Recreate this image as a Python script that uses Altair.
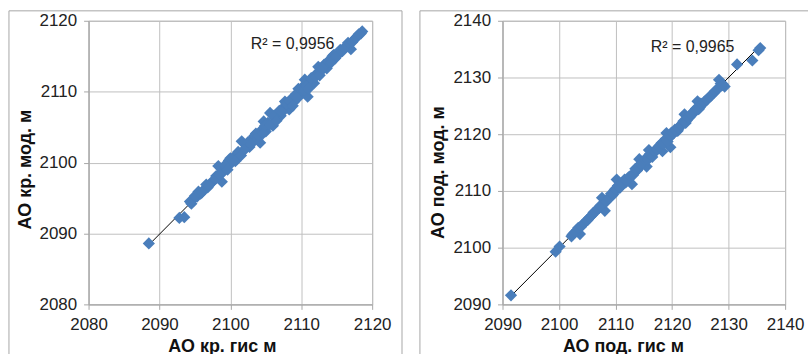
import altair as alt
import pandas as pd

# ---- data: left panel (АО кр.) ----
kr_gis = [2088.5, 2092.8, 2093.5, 2094.3, 2094.8, 2095.3, 2095.8, 2096.3, 2096.8, 2097.2,
          2097.6, 2098.0, 2098.3, 2098.8, 2099.0, 2099.4, 2099.8, 2100.2, 2100.5, 2100.9,
          2101.3, 2101.6, 2101.9, 2102.3, 2102.7, 2103.1, 2103.4, 2103.8, 2104.2, 2104.4,
          2104.7, 2105.0, 2105.3, 2105.6, 2106.0, 2106.3, 2106.7, 2107.1, 2107.4, 2107.7,
          2108.0, 2108.3, 2108.6, 2108.9, 2109.3, 2109.6, 2109.9, 2110.2, 2110.5, 2110.9,
          2111.2, 2111.5, 2111.8, 2112.2, 2112.4, 2112.8, 2113.2, 2113.6, 2114.0, 2114.4,
          2114.8, 2115.3, 2115.8, 2116.3, 2117.0, 2117.4, 2117.9, 2118.4, 2118.6,
          2094.5, 2095.0, 2095.5, 2096.0, 2096.6, 2097.0, 2097.9, 2098.5, 2099.2, 2099.6,
          2100.0, 2100.7, 2101.1, 2101.5, 2102.1, 2102.5, 2102.9, 2103.6, 2104.0, 2104.6,
          2104.9, 2105.5, 2106.1, 2106.5, 2106.9, 2107.3, 2107.9, 2108.4, 2108.8, 2109.1,
          2109.5, 2110.0, 2110.4, 2110.7, 2111.0, 2111.4, 2112.0, 2112.6, 2113.0, 2113.4,
          2113.8, 2114.2, 2114.6, 2115.0, 2115.5, 2116.0, 2116.6, 2117.2, 2117.7, 2118.1]
kr_mod = [2088.6, 2092.2, 2092.3, 2094.5, 2094.9, 2095.2, 2095.6, 2096.2, 2096.5, 2097.1,
          2097.4, 2098.1, 2099.5, 2097.3, 2098.7, 2099.2, 2100.3, 2100.0, 2100.8, 2100.5,
          2101.2, 2103.0, 2101.7, 2102.5, 2102.2, 2103.4, 2103.8, 2103.3, 2102.8, 2104.6,
          2105.8, 2104.4, 2105.6, 2107.0, 2105.2, 2106.2, 2106.8, 2106.6, 2107.7, 2108.6,
          2107.9, 2107.5, 2109.0, 2108.5, 2109.7, 2110.4, 2109.8, 2110.7, 2111.7, 2109.3,
          2110.9, 2111.5, 2111.2, 2112.6, 2113.5, 2112.9, 2113.8, 2113.3, 2114.5, 2115.0,
          2114.7, 2115.4, 2115.7, 2116.4, 2116.0, 2117.3, 2117.8, 2118.2, 2118.5,
          2094.2, 2095.3, 2095.9, 2095.8, 2096.9, 2096.8, 2097.7, 2098.3, 2099.6, 2099.0,
          2100.6, 2100.2, 2101.5, 2101.0, 2102.0, 2102.9, 2102.6, 2104.1, 2103.8, 2104.1,
          2105.2, 2105.3, 2106.6, 2105.9, 2107.3, 2107.1, 2108.3, 2108.7, 2108.0, 2109.4,
          2109.1, 2110.3, 2110.2, 2110.8, 2110.4, 2111.9, 2112.1, 2112.3, 2113.2, 2113.9,
          2114.2, 2114.1, 2115.2, 2115.0, 2115.9, 2116.1, 2116.9, 2117.0, 2117.6, 2118.1]

# ---- data: right panel (АО под.) ----
pod_gis = [2091.5, 2099.4, 2100.1, 2102.2, 2102.7, 2103.2, 2103.7, 2104.1, 2104.6, 2105.1,
           2105.6, 2106.1, 2106.6, 2107.1, 2107.6, 2108.1, 2108.5, 2109.0, 2109.4, 2109.8,
           2110.2, 2110.6, 2111.0, 2111.4, 2111.8, 2112.3, 2112.9, 2113.3, 2113.8, 2114.2,
           2114.6, 2115.0, 2115.5, 2115.9, 2116.3, 2116.7, 2117.1, 2117.5, 2117.9, 2118.3,
           2118.7, 2119.0, 2119.4, 2119.7, 2120.1, 2120.5, 2121.0, 2121.4, 2121.8, 2122.2,
           2122.6, 2123.1, 2123.6, 2124.0, 2124.5, 2124.9, 2125.4, 2125.9, 2126.4, 2126.9,
           2127.4, 2127.9, 2128.3, 2128.8, 2129.3, 2131.5, 2134.2, 2135.3, 2135.6,
           2102.4, 2102.9, 2103.4, 2103.9, 2104.4, 2104.9, 2105.4, 2105.9, 2106.4, 2106.9,
           2107.3, 2108.3, 2108.8, 2109.2, 2109.6, 2110.0, 2110.4, 2110.8, 2111.2, 2111.6,
           2112.0, 2112.6, 2113.1, 2113.5, 2114.0, 2114.4, 2114.8, 2115.2, 2115.7, 2116.1,
           2116.5, 2116.9, 2117.3, 2117.7, 2118.1, 2118.5, 2118.9, 2119.2, 2119.6, 2119.9,
           2120.3, 2120.7, 2121.2, 2121.6, 2122.0, 2122.4, 2122.8, 2123.3, 2123.8, 2124.2,
           2124.7, 2125.1, 2125.6, 2126.1, 2126.6, 2127.1, 2127.6, 2128.1, 2128.6, 2129.0]
pod_mod = [2091.6, 2099.3, 2100.2, 2102.0, 2102.6, 2103.1, 2102.4, 2104.0, 2104.5, 2104.9,
           2105.5, 2106.2, 2106.6, 2107.0, 2108.8, 2106.5, 2108.3, 2109.0, 2109.2, 2110.1,
           2112.0, 2110.5, 2111.1, 2111.6, 2111.5, 2112.4, 2111.2, 2113.2, 2113.6, 2115.6,
           2114.5, 2115.1, 2114.3, 2117.2, 2116.3, 2116.8, 2117.0, 2117.6, 2118.1, 2117.0,
           2118.8, 2120.2, 2119.3, 2117.7, 2120.0, 2120.8, 2120.6, 2121.5, 2121.9, 2123.5,
           2122.4, 2123.0, 2123.5, 2124.1, 2125.8, 2124.7, 2125.3, 2125.9, 2126.3, 2126.8,
           2127.3, 2127.8, 2129.6, 2128.6, 2128.4, 2132.3, 2133.0, 2134.8, 2135.2,
           2102.3, 2102.8, 2103.5, 2103.7, 2104.3, 2104.8, 2105.3, 2105.8, 2106.3, 2106.9,
           2107.4, 2108.1, 2108.7, 2109.5, 2109.4, 2110.4, 2110.9, 2110.6, 2111.3, 2112.0,
           2111.8, 2112.6, 2112.8, 2113.9, 2114.3, 2114.7, 2115.0, 2115.6, 2115.5, 2116.5,
           2116.0, 2117.1, 2117.3, 2117.9, 2118.4, 2118.3, 2119.2, 2118.7, 2119.8, 2120.3,
           2120.2, 2120.6, 2121.0, 2121.6, 2122.3, 2122.0, 2122.9, 2123.5, 2124.0, 2124.5,
           2124.4, 2125.4, 2125.6, 2126.0, 2126.6, 2127.0, 2127.6, 2128.0, 2128.9, 2128.8]

kr_ticks = [2080, 2090, 2100, 2110, 2120]
pod_ticks = [2090, 2100, 2110, 2120, 2130, 2140]
kr_r2 = "R² = 0,9956"
pod_r2 = "R² = 0,9965"

BLUE = "#4A7EBB"
FRAME = "#A6A6A6"
FONT = "Liberation Sans"


def panel(xs, ys, ticks, xtitle, ytitle, r2, width, frame_left, frame_right,
          text_x, text_y, title_x, title_y, right_rule=True):
    df = pd.DataFrame({"x": xs, "y": ys})
    dom = [ticks[0], ticks[-1]]
    xenc = alt.X("x:Q", scale=alt.Scale(domain=dom, nice=False, zero=False),
                 axis=alt.Axis(values=ticks, title=xtitle, format="d", titleX=title_x,
                               labelFlush=False))
    yenc = alt.Y("y:Q", scale=alt.Scale(domain=dom, nice=False, zero=False),
                 axis=alt.Axis(values=ticks, title=ytitle, format="d", titleY=title_y,
                               labelFlush=False))
    pts = alt.Chart(df).mark_point(shape="diamond", filled=True, size=150, color=BLUE,
                                   opacity=1).encode(x=xenc, y=yenc)
    line = alt.Chart(df).transform_regression("x", "y").mark_line(
        color="black", strokeWidth=1).encode(x="x:Q", y="y:Q")
    txt = alt.Chart(pd.DataFrame({"t": [r2]})).mark_text(
        align="left", baseline="middle", font=FONT, fontSize=16, color="#222222"
    ).encode(text="t:N", x=alt.value(text_x), y=alt.value(text_y))
    one = pd.DataFrame({"a": [0]})
    rules = [
        alt.Chart(one).mark_rule(color=FRAME, strokeWidth=1).encode(
            x=alt.value(frame_left), y=alt.value(-10), y2=alt.value(335)),
        alt.Chart(one).mark_rule(color=FRAME, strokeWidth=1).encode(
            x=alt.value(frame_left), x2=alt.value(frame_right), y=alt.value(-10)),
    ]
    if right_rule:
        rules.append(alt.Chart(one).mark_rule(color=FRAME, strokeWidth=1).encode(
            x=alt.value(frame_right), y=alt.value(-10), y2=alt.value(335)))
    return alt.layer(*rules, line, pts, txt).properties(width=width, height=285)


left = panel(kr_gis, kr_mod, kr_ticks, "АО кр. гис м", "АО кр. мод. м", kr_r2,
             285, -80, 315, 163, 23, 134, 149)
right = panel(pod_gis, pod_mod, pod_ticks, "АО под. гис м", "АО под. мод. м", pod_r2,
              284, -83, 307, 149, 26, 121, 152, right_rule=False)

chart = alt.hconcat(left, right, spacing=16).properties(
    padding={"left": 8, "top": 9, "right": 0, "bottom": 0}
).configure_view(stroke="#A6A6A6", strokeWidth=1).configure_axis(
    grid=True, gridColor="#BFBFBF", gridWidth=1,
    domainColor="#A6A6A6", tickColor="#A6A6A6", tickSize=5,
    labelFont=FONT, labelFontSize=17, labelColor="#222222", labelPadding=7,
    labelFlush=False,
    titleFont=FONT, titleFontSize=18, titleFontWeight="bold", titleColor="#111111",
    titlePadding=5
).configure_concat(spacing=16)

chart.save("out.html", embed_options={"renderer": "svg", "actions": False})
